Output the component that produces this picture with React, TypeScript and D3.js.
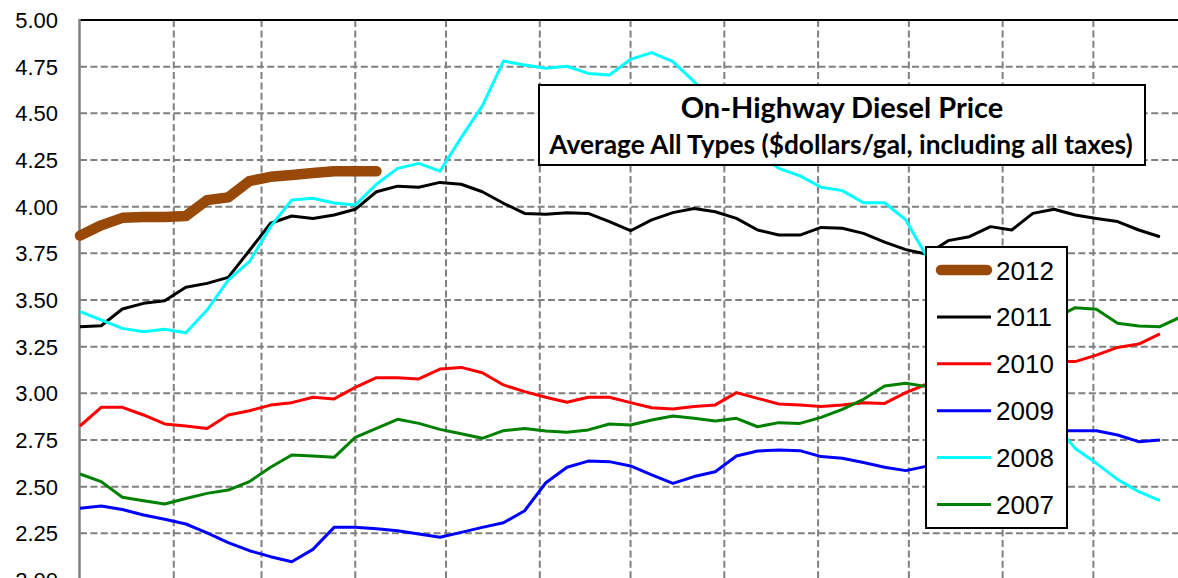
import React from 'react';
import * as d3 from 'd3';

const W = 1178;
const H = 578;

const seriesNames = ['2012', '2011', '2010', '2009', '2008', '2007'];
const seriesColors = ['#984807', '#000000', '#FF0000', '#0000FF', '#00FFFF', '#008000'];
const seriesWidths = [10.5, 3, 3, 3, 3, 3];

const yTicks = [2.0, 2.25, 2.5, 2.75, 3.0, 3.25, 3.5, 3.75, 4.0, 4.25, 4.5, 4.75, 5.0];

const v2012 = [3.845, 3.90, 3.94, 3.945, 3.945, 3.95, 4.035, 4.05, 4.137, 4.16, 4.17, 4.18, 4.19, 4.19, 4.19];
const v2011 = [3.357, 3.362, 3.452, 3.482, 3.496, 3.568, 3.589, 3.621, 3.765, 3.911, 3.95, 3.937, 3.955, 3.986, 4.08, 4.11, 4.104, 4.13, 4.12, 4.08, 4.018, 3.964, 3.959, 3.968, 3.964, 3.92, 3.871, 3.929, 3.968, 3.99, 3.973, 3.937, 3.875, 3.848, 3.848, 3.889, 3.884, 3.857, 3.81, 3.77, 3.745, 3.818, 3.839, 3.893, 3.875, 3.964, 3.986, 3.955, 3.937, 3.92, 3.875, 3.839];
const v2010 = [2.825, 2.925, 2.925, 2.884, 2.836, 2.825, 2.812, 2.884, 2.907, 2.937, 2.95, 2.979, 2.97, 3.032, 3.084, 3.084, 3.077, 3.13, 3.139, 3.11, 3.045, 3.009, 2.979, 2.952, 2.979, 2.979, 2.95, 2.923, 2.916, 2.929, 2.938, 3.004, 2.973, 2.943, 2.937, 2.929, 2.937, 2.95, 2.946, 3.004, 3.05, 3.08, 3.10, 3.12, 3.14, 3.155, 3.17, 3.17, 3.205, 3.246, 3.264, 3.318];
const v2009 = [2.384, 2.396, 2.378, 2.348, 2.325, 2.30, 2.253, 2.20, 2.157, 2.125, 2.098, 2.164, 2.282, 2.282, 2.275, 2.264, 2.246, 2.229, 2.255, 2.282, 2.307, 2.371, 2.521, 2.604, 2.637, 2.634, 2.611, 2.563, 2.518, 2.554, 2.58, 2.664, 2.691, 2.696, 2.693, 2.661, 2.652, 2.629, 2.604, 2.586, 2.61, 2.64, 2.67, 2.70, 2.735, 2.77, 2.80, 2.80, 2.80, 2.777, 2.741, 2.75];
const v2008 = [3.4375, 3.393, 3.348, 3.33, 3.343, 3.325, 3.446, 3.607, 3.705, 3.893, 4.036, 4.045, 4.02, 4.009, 4.12, 4.205, 4.232, 4.19, 4.37, 4.54, 4.78, 4.759, 4.741, 4.752, 4.714, 4.705, 4.789, 4.825, 4.777, 4.67, 4.55, 4.42, 4.29, 4.205, 4.165, 4.104, 4.086, 4.021, 4.021, 3.929, 3.73, 3.56, 3.40, 3.24, 3.09, 2.95, 2.84, 2.705, 2.625, 2.539, 2.473, 2.425];
const v2007 = [2.568, 2.527, 2.443, 2.425, 2.407, 2.437, 2.464, 2.482, 2.527, 2.604, 2.67, 2.664, 2.657, 2.764, 2.812, 2.861, 2.839, 2.807, 2.783, 2.759, 2.80, 2.812, 2.798, 2.791, 2.804, 2.836, 2.83, 2.857, 2.879, 2.866, 2.852, 2.866, 2.821, 2.843, 2.839, 2.871, 2.914, 2.968, 3.039, 3.054, 3.036, 3.06, 3.08, 3.12, 3.22, 3.33, 3.40, 3.459, 3.45, 3.375, 3.361, 3.357, 3.41];

const seriesValues = [v2012, v2011, v2010, v2009, v2008, v2007];

const titleText = 'On-Highway Diesel Price';
const subtitleText = 'Average All Types ($dollars/gal, including all taxes)';

const start = new Date(Date.UTC(2012, 0, 1));
const end = new Date(Date.UTC(2013, 0, 1));

const x = d3.scaleUtc().domain([start, end]).range([80, 80 + 366 * 3.025]);
const y = d3.scaleLinear().domain([2, 5]).range([580, 20]);

const weekDate = (i: number) => d3.utcDay.offset(start, 7 * i);

const lineGen = d3
  .line<number>()
  .x((_d, i) => x(weekDate(i)))
  .y((d) => y(d));

const monthLines = d3.utcMonth.range(d3.utcMonth.offset(start, 1), end);

const GRID = '#808080';
const DASH = '7,3.4';

export default function App() {
  const legendX = 926;
  const legendY = 247;
  const legendW = 141;
  const legendH = 281;
  const legendStep = 46.9;
  return (
    <svg
      width={W}
      height={H}
      style={{ position: 'absolute', left: 0, top: 0, background: '#fff' }}
    >
      <rect x={0} y={0} width={W} height={H} fill="#fff" />
      {yTicks
        .filter((t) => t < 5)
        .map((t) => (
          <line
            key={'h' + t}
            x1={80}
            x2={W}
            y1={y(t)}
            y2={y(t)}
            stroke={GRID}
            strokeWidth={2}
            strokeDasharray={DASH}
          />
        ))}
      {monthLines.map((m) => (
        <line
          key={'v' + m.getTime()}
          x1={x(m)}
          x2={x(m)}
          y1={20}
          y2={H}
          stroke={GRID}
          strokeWidth={2}
          strokeDasharray={DASH}
        />
      ))}
      <line x1={80} x2={W} y1={20} y2={20} stroke="#000" strokeWidth={2} />
      <line x1={79.5} x2={79.5} y1={19} y2={H} stroke={GRID} strokeWidth={2.5} />
      {yTicks.map((t) => (
        <text
          key={'t' + t}
          x={58}
          y={y(t) + 8}
          textAnchor="end"
          fontFamily="'Liberation Sans', Arial, sans-serif"
          fontSize={22}
          fill="#000"
        >
          {t.toFixed(2)}
        </text>
      ))}
      {seriesValues.map((vals, k) => (
        <path
          key={'s' + k}
          d={lineGen(vals) || ''}
          fill="none"
          stroke={seriesColors[k]}
          strokeWidth={seriesWidths[k]}
          strokeLinejoin="round"
          strokeLinecap={k === 0 ? 'round' : 'butt'}
        />
      ))}
      <rect x={539} y={85} width={606} height={80} fill="#fff" stroke="#000" strokeWidth={2} />
      <text
        x={842}
        y={118}
        textAnchor="middle"
        fontFamily="Lato, 'Open Sans', sans-serif"
        fontWeight="bold"
        fontSize={29}
        fill="#000"
      >
        {titleText}
      </text>
      <text
        x={841}
        y={154}
        textAnchor="middle"
        fontFamily="Lato, 'Open Sans', sans-serif"
        fontWeight="bold"
        fontSize={26.3}
        fill="#000"
      >
        {subtitleText}
      </text>
      <rect x={legendX} y={legendY} width={legendW} height={legendH} fill="#fff" stroke="#000" strokeWidth={2} />
      {seriesNames.map((name, k) => {
        const cy = 270 + legendStep * k;
        return (
          <g key={'l' + name}>
            <line
              x1={k === 0 ? 941 : 937}
              x2={k === 0 ? 987 : 991}
              y1={cy}
              y2={cy}
              stroke={seriesColors[k]}
              strokeWidth={seriesWidths[k]}
              strokeLinecap={k === 0 ? 'round' : 'butt'}
            />
            <text
              x={996}
              y={cy + 9.5}
              fontFamily="'Liberation Sans', Arial, sans-serif"
              fontSize={26}
              fill="#000"
            >
              {name}
            </text>
          </g>
        );
      })}
    </svg>
  );
}
